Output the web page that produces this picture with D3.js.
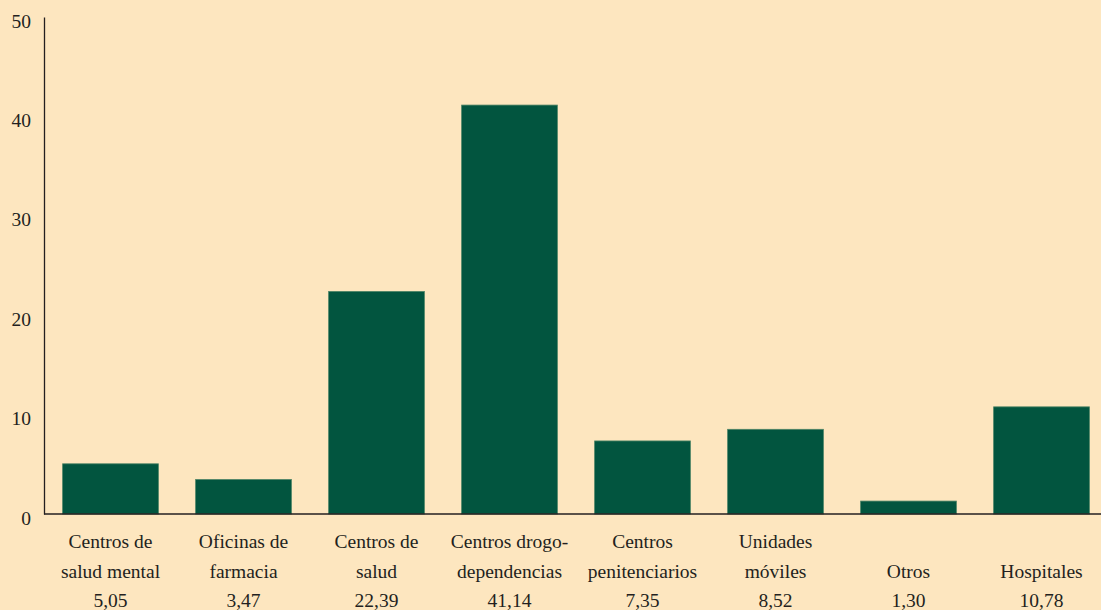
<!DOCTYPE html>
<html>
<head>
<meta charset="utf-8">
<script src="https://cdn.jsdelivr.net/npm/d3@7"></script>
<style>
  html, body { margin: 0; padding: 0; background: #FDE6BF; }
  svg { display: block; }
  svg text { font-family: "Liberation Serif", "Times New Roman", Times, serif; fill: #231F20; }
</style>
</head>
<body>
<svg id="chart" width="1101" height="610"></svg>
<script>
const categories = [
  ["Centros de", "salud mental"],
  ["Oficinas de", "farmacia"],
  ["Centros de", "salud"],
  ["Centros drogo-", "dependencias"],
  ["Centros", "penitenciarios"],
  ["Unidades", "móviles"],
  ["", "Otros"],
  ["", "Hospitales"]
];
const values = [5.05, 3.47, 22.39, 41.14, 7.35, 8.52, 1.30, 10.78];
const valueLabels = ["5,05", "3,47", "22,39", "41,14", "7,35", "8,52", "1,30", "10,78"];
const yTicks = [0, 10, 20, 30, 40, 50];

const FONT = "'Liberation Serif', 'Times New Roman', Times, serif";
const FS = "19.5px";
const svg = d3.select("#chart");
const W = 1101, H = 610;
const x0 = 44, yTop = 17, yBase = 514;

const idx = categories.map((d, i) => i);
const x = d3.scaleBand().domain(idx).range([x0, 1108]).paddingInner(0.28).paddingOuter(0.14);
const y = d3.scaleLinear().domain([0, 50]).range([yBase, yTop]);

svg.append("rect").attr("width", W).attr("height", H).attr("fill", "#FDE6BF");

// bars
svg.selectAll("rect.bar").data(values).enter().append("rect")
  .attr("class", "bar")
  .attr("x", (d, i) => x(i))
  .attr("width", x.bandwidth())
  .attr("y", d => y(d))
  .attr("height", d => y(0) - y(d))
  .attr("fill", "#02553F")
  .attr("stroke", "#4E8466")
  .attr("stroke-width", 0.8);

// y axis
const yAxis = d3.axisLeft(y).tickValues(yTicks).tickSize(0).tickPadding(13).tickFormat(d3.format("d"));
const ga = svg.append("g").attr("transform", `translate(${x0},0)`).call(yAxis)
  .attr("font-family", FONT).attr("font-size", 19.5);
ga.select(".domain").attr("stroke", "#231F20").attr("stroke-width", 1.3);
ga.selectAll("text").style("font-family", FONT).style("font-size", FS)
  .attr("fill", "#231F20").attr("dy", "0.52em");

// baseline
svg.append("line").attr("x1", x0).attr("x2", W).attr("y1", y(0)).attr("y2", y(0))
  .attr("stroke", "#231F20").attr("stroke-width", 1.3);

// category labels
const lab = svg.selectAll("g.lab").data(idx).enter().append("g")
  .attr("class", "lab")
  .attr("transform", i => `translate(${x(i) + x.bandwidth() / 2},0)`);
[[0, 548], [1, 578]].forEach(([k, yy]) => {
  lab.append("text").attr("y", yy).attr("text-anchor", "middle")
    .style("font-family", FONT).style("font-size", FS)
    .text(i => categories[i][k]);
});
lab.append("text").attr("y", 607).attr("text-anchor", "middle")
  .style("font-family", FONT).style("font-size", FS)
  .text(i => valueLabels[i]);
</script>
</body>
</html>
